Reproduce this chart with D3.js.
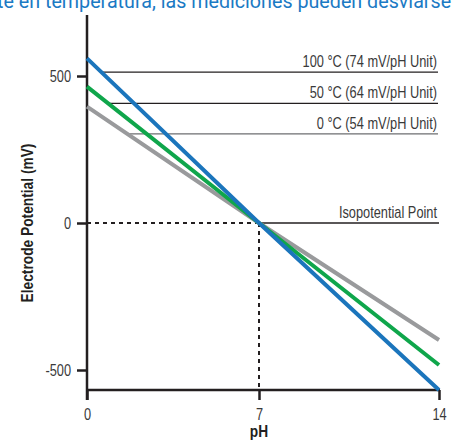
<!DOCTYPE html>
<html>
<head>
<meta charset="utf-8">
<script src="https://cdn.jsdelivr.net/npm/d3@7"></script>
<style>
  body { margin: 0; background: #fff; }
  svg { display: block; }
</style>
</head>
<body>
<div id="graph"></div>
<script>
// values
var phPoints = [0, 7, 14];
var mv100 = [560, 0, -568];
var mv50 = [464, 0, -483];
var mv0 = [396, 0, -398];
var seriesNames = ["100 °C (74 mV/pH Unit)", "50 °C (64 mV/pH Unit)", "0 °C (54 mV/pH Unit)"];
var leaderMv = [513, 407, 303];
var phTicks = [0, 7, 14];
var mvTicks = [-500, 0, 500];
var titleText = "te en temperatura, las mediciones pueden desviarse";

var width = 456;
var height = 441;
var sans = "'Liberation Sans', Arial, sans-serif";

var svg = d3.select('#graph')
  .append('svg')
  .attr('width', width)
  .attr('height', height);

var x = d3.scaleLinear().domain([0, 7, 14]).range([87, 259, 439]);
var y = d3.scaleLinear().domain([-500, 500]).range([370, 76]);

// squeeze a text horizontally around its anchor point (fake narrow face)
function squeeze(t, k, extra) {
  var tx = +t.attr('x') || 0, ty = +t.attr('y') || 0;
  t.attr('x', 0).attr('y', 0)
    .attr('transform', 'translate(' + tx + ',' + ty + ')' + (extra || '') + ' scale(' + k + ',1)');
}

// title fragment at top
svg.append('text')
  .attr('x', -3)
  .attr('y', 8)
  .attr('fill', '#1b7ac4')
  .style('font-family', "Roboto, 'Liberation Sans', sans-serif")
  .style('font-size', '19.7px')
  .text(titleText);

// y axis
var yAxis = d3.axisLeft(y).tickValues(mvTicks).tickSize(10).tickPadding(6)
  .tickFormat(function(d) { return String(d); });
var gy = svg.append('g').attr('transform', 'translate(87,0)').call(yAxis);
gy.select('.domain').remove();
gy.append('line')
  .attr('x1', 0).attr('x2', 0)
  .attr('y1', 15).attr('y2', 400)
  .attr('stroke', '#231f20').attr('stroke-width', 2.5);

// x axis
var xAxis = d3.axisBottom(x).tickValues(phTicks).tickSize(10).tickPadding(9);
var gx = svg.append('g').attr('transform', 'translate(0,390)').call(xAxis);
gx.select('.domain').remove();
gx.append('line')
  .attr('x1', 87).attr('x2', 440)
  .attr('y1', 0).attr('y2', 0)
  .attr('stroke', '#231f20').attr('stroke-width', 2.5);

[gx, gy].forEach(function(g) {
  g.selectAll('.tick line').attr('stroke', '#231f20').attr('stroke-width', 2.5);
  g.selectAll('.tick text')
    .attr('fill', '#3a3a3a')
    .style('font-family', sans)
    .style('font-size', '16px')
    .each(function() { squeeze(d3.select(this), 0.8); });
});

// dashed guides to isopotential point
svg.append('line')
  .attr('x1', x(0)).attr('x2', x(7))
  .attr('y1', y(0)).attr('y2', y(0))
  .attr('stroke', '#231f20').attr('stroke-width', 2)
  .attr('stroke-dasharray', '4,4');
svg.append('line')
  .attr('x1', x(7)).attr('x2', x(7))
  .attr('y1', y(0)).attr('y2', 390)
  .attr('stroke', '#231f20').attr('stroke-width', 2)
  .attr('stroke-dasharray', '4,4');

// leader lines + labels
var seriesData = [mv100, mv50, mv0];
var leaderColors = ['#231f20', '#231f20', '#6d6e71'];
function phAt(vals, mv) {
  // first segment, linear
  return phPoints[0] + (phPoints[1] - phPoints[0]) * (vals[0] - mv) / (vals[0] - vals[1]);
}
function leaderLabel(text, yPos) {
  var t = svg.append('text')
    .attr('x', 437)
    .attr('y', yPos - 5)
    .attr('text-anchor', 'end')
    .attr('fill', '#3a3a3a')
    .style('font-family', sans)
    .style('font-size', '16px')
    .text(text);
  squeeze(t, 0.8);
}
seriesNames.forEach(function(name, i) {
  svg.append('line')
    .attr('x1', x(phAt(seriesData[i], leaderMv[i]))).attr('x2', 438)
    .attr('y1', y(leaderMv[i])).attr('y2', y(leaderMv[i]))
    .attr('stroke', leaderColors[i]).attr('stroke-width', 1.3);
  leaderLabel(name, y(leaderMv[i]));
});
svg.append('line')
  .attr('x1', x(7)).attr('x2', 439)
  .attr('y1', y(0)).attr('y2', y(0))
  .attr('stroke', '#231f20').attr('stroke-width', 1.3);
leaderLabel('Isopotential Point', y(0));

// electrode lines
var line = d3.line()
  .x(function(d, i) { return x(phPoints[i]); })
  .y(function(d) { return y(d); });
var lineColors = ['#1b75bc', '#0fa64b', '#999a9c'];
[mv0, mv50, mv100].forEach(function(vals, i) {
  svg.append('path')
    .datum(vals)
    .attr('d', line)
    .attr('fill', 'none')
    .attr('stroke', lineColors[2 - i])
    .attr('stroke-width', 4);
});

// axis titles
var yt = svg.append('text')
  .attr('x', 33)
  .attr('y', 223)
  .attr('text-anchor', 'middle')
  .attr('fill', '#231f20')
  .style('font-family', sans)
  .style('font-weight', 'bold')
  .style('font-size', '16px')
  .text('Electrode Potential (mV)');
squeeze(yt, 0.86, ' rotate(-90)');
var xt = svg.append('text')
  .attr('x', x(7))
  .attr('y', 437)
  .attr('text-anchor', 'middle')
  .attr('fill', '#231f20')
  .style('font-family', sans)
  .style('font-weight', 'bold')
  .style('font-size', '16px')
  .text('pH');
squeeze(xt, 0.86);
</script>
</body>
</html>
